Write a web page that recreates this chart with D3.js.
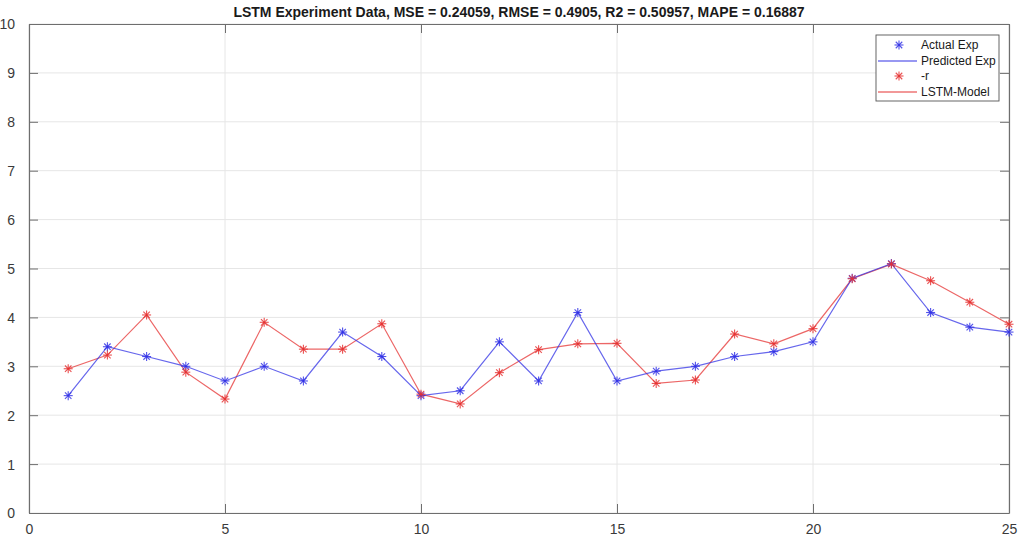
<!DOCTYPE html>
<html>
<head>
<meta charset="utf-8">
<script src="https://cdn.jsdelivr.net/npm/d3@7"></script>
<style>
  body { margin: 0; background: #fff; }
  svg { display: block; font-family: "Liberation Sans", Arial, sans-serif; }
</style>
</head>
<body>
<svg id="chart" width="1019" height="537"></svg>
<script>
// data
const samples = d3.range(1, 26);
const actualExp = [2.4, 3.4, 3.2, 3.0, 2.7, 3.0, 2.7, 3.7, 3.2, 2.4, 2.5, 3.5, 2.7, 4.1, 2.7,
                   2.9, 3.0, 3.2, 3.3, 3.5, 4.8, 5.1, 4.1, 3.8, 3.7];
const lstmModel = [2.95, 3.23, 4.05, 2.88, 2.33, 3.9, 3.35, 3.35, 3.87, 2.43, 2.23, 2.87, 3.34, 3.46, 3.47,
                   2.65, 2.72, 3.66, 3.46, 3.77, 4.79, 5.09, 4.75, 4.31, 3.86];
const xTicks = [0, 5, 10, 15, 20, 25];
const yTicks = [0, 1, 2, 3, 4, 5, 6, 7, 8, 9, 10];
const legendLabels = ["Actual Exp", "Predicted Exp", "-r", "LSTM-Model"];
const titleText = "LSTM Experiment Data, MSE = 0.24059, RMSE = 0.4905, R2 = 0.50957, MAPE = 0.16887";

const blue = "#3333e6", red = "#e63333";

const svg = d3.select("#chart");
const margin = {left: 29, top: 24, right: 10, bottom: 24};
const width = 1019, height = 537;

const xScale = d3.scaleLinear().domain([0, 25]).range([margin.left, width - margin.right]);
const yScale = d3.scaleLinear().domain([0, 10]).range([height - margin.bottom, margin.top]);

// grid
const grid = svg.append("g").attr("class", "grid");
grid.selectAll(".gx").data(xTicks).enter().append("line")
    .attr("x1", d => xScale(d)).attr("x2", d => xScale(d))
    .attr("y1", yScale(0)).attr("y2", yScale(10))
    .style("stroke", "#e6e6e6");
grid.selectAll(".gy").data(yTicks).enter().append("line")
    .attr("x1", xScale(0)).attr("x2", xScale(25))
    .attr("y1", d => yScale(d)).attr("y2", d => yScale(d))
    .style("stroke", "#e6e6e6");

// axes (ticks pointing inward, box on all sides)
const axisColor = "#6e6e6e";
const xAxis = svg.append("g").attr("transform", `translate(0,${yScale(0)})`)
    .call(d3.axisBottom(xScale).tickValues(xTicks).tickSizeInner(-9).tickSizeOuter(0).tickPadding(14));
const xAxisTop = svg.append("g").attr("transform", `translate(0,${yScale(10)})`)
    .call(d3.axisTop(xScale).tickValues(xTicks).tickSizeInner(-9).tickSizeOuter(0).tickFormat(""));
const yAxis = svg.append("g").attr("transform", `translate(${xScale(0)},0)`)
    .call(d3.axisLeft(yScale).tickValues(yTicks).tickSizeInner(-9).tickSizeOuter(0).tickPadding(14));
const yAxisRight = svg.append("g").attr("transform", `translate(${xScale(25)},0)`)
    .call(d3.axisRight(yScale).tickValues(yTicks).tickSizeInner(-9).tickSizeOuter(0).tickFormat(""));

[xAxis, xAxisTop, yAxis, yAxisRight].forEach(a => {
    a.select(".domain").style("stroke", axisColor).style("stroke-width", 1.2);
    a.selectAll(".tick line").style("stroke", axisColor);
    a.selectAll("text").style("fill", "#3a3a3a").style("font-size", "14px")
        .style("font-family", "\"Liberation Sans\", Arial, sans-serif");
});
yAxis.selectAll("text").attr("dy", "0.35em");
xAxis.selectAll("text").attr("dy", "0.71em").attr("y", 11);

// lines
const series = [
    {values: actualExp, color: blue},
    {values: lstmModel, color: red}
];
const line = d3.line().x((d, i) => xScale(samples[i])).y(d => yScale(d));

function star(g, color) {
    const s = 4.5, d = s * 0.72;
    g.append("line").attr("x1", -s).attr("x2", s).attr("y1", 0).attr("y2", 0);
    g.append("line").attr("x1", 0).attr("x2", 0).attr("y1", -s).attr("y2", s);
    g.append("line").attr("x1", -d).attr("x2", d).attr("y1", -d).attr("y2", d);
    g.append("line").attr("x1", -d).attr("x2", d).attr("y1", d).attr("y2", -d);
    g.selectAll("line").style("stroke", color).style("stroke-width", 1.1).style("stroke-opacity", 0.85);
}

[series[1], series[0]].forEach(s => {
    svg.append("path").datum(s.values)
        .attr("d", line)
        .style("fill", "none")
        .style("stroke", s.color)
        .style("stroke-width", 1.2)
        .style("stroke-opacity", 0.75);
});
series.forEach(s => {
    svg.append("g").selectAll("g").data(s.values).enter().append("g")
        .attr("transform", (d, i) => `translate(${xScale(samples[i])},${yScale(d)})`)
        .each(function () { star(d3.select(this), s.color); });
});

// title
svg.append("text")
    .attr("x", (xScale(0) + xScale(25)) / 2)
    .attr("y", 17)
    .attr("text-anchor", "middle")
    .style("font-size", "14px")
    .style("font-weight", "bold")
    .style("fill", "#1a1a1a")
    .text(titleText);

// legend
const legend = svg.append("g").attr("transform", "translate(876,35)");
legend.append("rect").attr("width", 123).attr("height", 66)
    .style("fill", "#fff").style("stroke", "#555").style("stroke-width", 0.9);
const legendItems = [
    {label: legendLabels[0], color: blue, type: "marker"},
    {label: legendLabels[1], color: blue, type: "line"},
    {label: legendLabels[2], color: red, type: "marker"},
    {label: legendLabels[3], color: red, type: "line"}
];
const item = legend.selectAll(".item").data(legendItems).enter().append("g")
    .attr("transform", (d, i) => `translate(0,${10 + i * 15.5})`);
item.filter(d => d.type === "marker").each(function (d) {
    star(d3.select(this).append("g").attr("transform", "translate(23,0)"), d.color);
});
item.filter(d => d.type === "line").append("path")
    .attr("d", "M2,0.5H41")
    .attr("stroke", d => d.color)
    .attr("stroke-width", 1.1)
    .attr("fill", "none");
item.append("text").attr("x", 45).attr("dy", "0.35em")
    .style("font-size", "12px").style("fill", "#1a1a1a")
    .text(d => d.label);
</script>
</body>
</html>
